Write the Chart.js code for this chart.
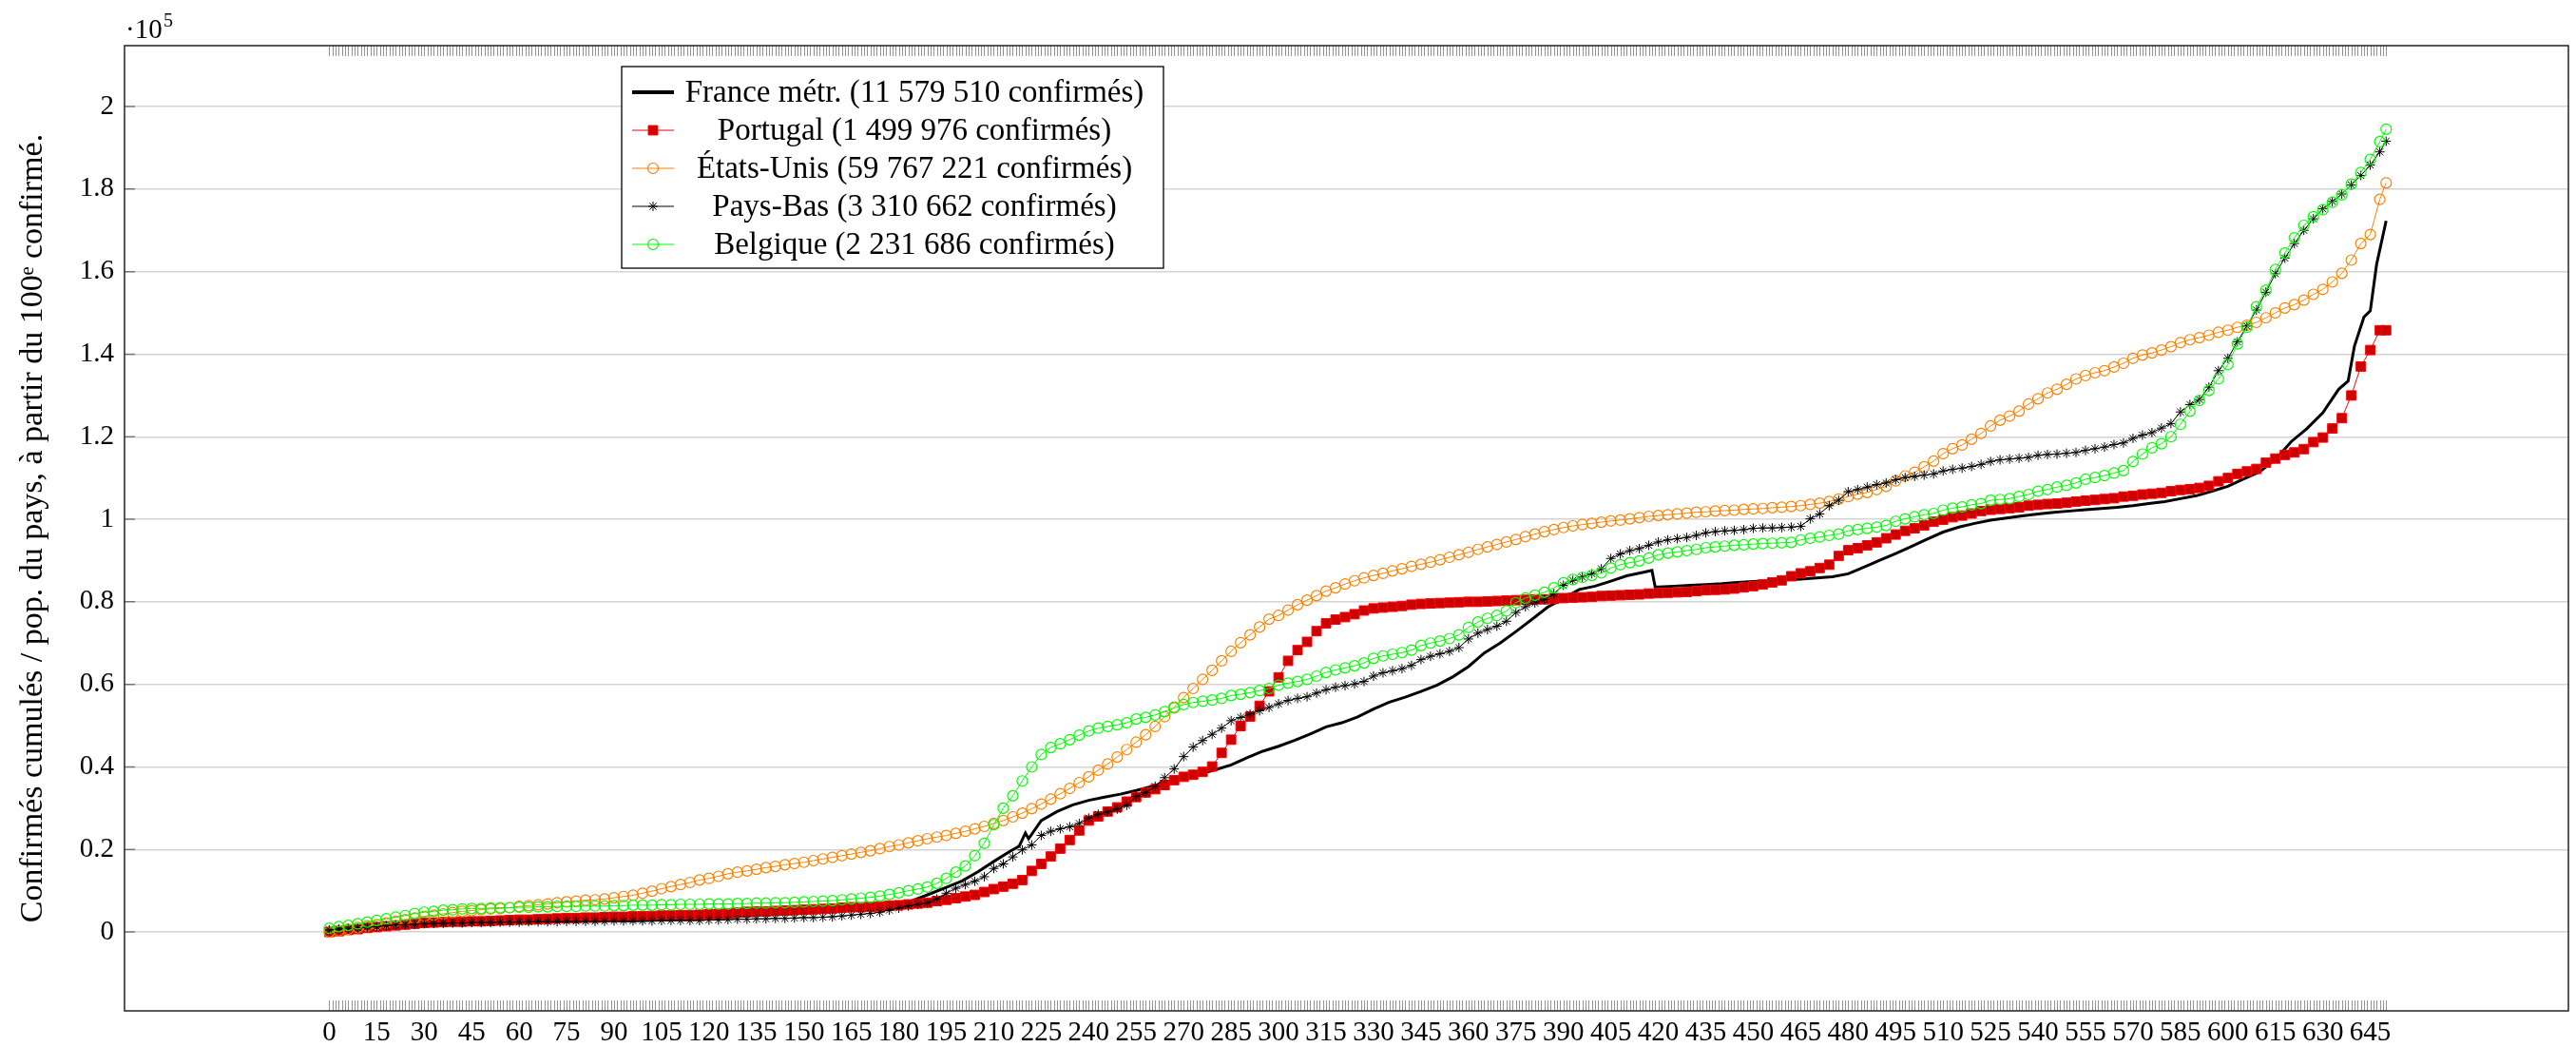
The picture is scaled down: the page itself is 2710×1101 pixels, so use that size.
<!DOCTYPE html>
<html>
<head>
<meta charset="utf-8">
<title>Confirmés cumulés</title>
<script src="https://cdn.jsdelivr.net/npm/chart.js@4.4.1/dist/chart.umd.min.js"></script>
<style>
    html, body { margin: 0; padding: 0; background: #fff; }
    canvas { display: block; }
</style>
</head>
<body>
<canvas id="Cumul" width="2710" height="1101"></canvas>
<script>
// jours depuis le 100e confirmé (un point tous les 3 jours)
const days = [
    0, 3, 6, 9, 12, 15, 18, 21, 24, 27, 30, 33, 36, 39, 42, 45, 48, 51, 54, 57,
    60, 63, 66, 69, 72, 75, 78, 81, 84, 87, 90, 93, 96, 99, 102, 105, 108, 111, 114, 117,
    120, 123, 126, 129, 132, 135, 138, 141, 144, 147, 150, 153, 156, 159, 162, 165, 168, 171, 174, 177,
    180, 183, 186, 189, 192, 195, 198, 201, 204, 207, 210, 213, 216, 219, 222, 225, 228, 231, 234, 237,
    240, 243, 246, 249, 252, 255, 258, 261, 264, 267, 270, 273, 276, 279, 282, 285, 288, 291, 294, 297,
    300, 303, 306, 309, 312, 315, 318, 321, 324, 327, 330, 333, 336, 339, 342, 345, 348, 351, 354, 357,
    360, 363, 366, 369, 372, 375, 378, 381, 384, 387, 390, 393, 396, 399, 402, 405, 408, 411, 414, 417,
    420, 423, 426, 429, 432, 435, 438, 441, 444, 447, 450, 453, 456, 459, 462, 465, 468, 471, 474, 477,
    480, 483, 486, 489, 492, 495, 498, 501, 504, 507, 510, 513, 516, 519, 522, 525, 528, 531, 534, 537,
    540, 543, 546, 549, 552, 555, 558, 561, 564, 567, 570, 573, 576, 579, 582, 585, 588, 591, 594, 597,
    600, 603, 606, 609, 612, 615, 618, 621, 624, 627, 630, 633, 636, 639, 642, 645, 648, 650
];

// France métr. : ligne sans marques, quelques jours en plus pour les sauts
const franceDays = [
    0, 5, 10, 15, 20, 25, 30, 35, 40, 45, 50, 55, 60, 65, 70, 75, 80, 85, 90, 95,
    100, 105, 110, 115, 120, 125, 130, 135, 140, 145, 150, 155, 160, 165, 170, 175, 180, 185, 190, 195,
    200, 205, 210, 215, 218, 220, 221, 225,
    230, 235, 240, 245, 250, 255, 260, 265, 270, 275, 280, 285, 290, 295,
    300, 305, 310, 315, 320, 325, 330, 335, 340, 345, 350, 355, 360, 365, 370, 375, 380, 385, 390, 395,
    400, 405, 410, 415, 418, 419, 420,
    425, 430, 435, 440, 445, 450, 455, 460, 465, 470, 475, 480, 485, 490, 495,
    500, 505, 510, 515, 520, 525, 530, 535, 540, 545, 550, 555, 560, 565, 570, 575, 580, 585, 590, 595,
    600, 605, 610, 615, 620, 625, 630, 635, 638, 640, 643, 645, 647, 650
];

// valeurs en unités de 10^5
const france = [
    0.000, 0.005, 0.008, 0.011, 0.014, 0.017, 0.019, 0.020, 0.021, 0.022,
    0.023, 0.023, 0.024, 0.024, 0.025, 0.025, 0.026, 0.026, 0.027, 0.027,
    0.028, 0.029, 0.030, 0.031, 0.033, 0.035, 0.038, 0.040, 0.042, 0.044,
    0.046, 0.048, 0.050, 0.053, 0.057, 0.061, 0.065, 0.078, 0.093, 0.108,
    0.124, 0.146, 0.171, 0.195, 0.208, 0.240, 0.226, 0.270,
    0.292, 0.308, 0.319, 0.327,
    0.334, 0.343, 0.353, 0.365, 0.375, 0.383, 0.393, 0.405, 0.422, 0.438,
    0.450, 0.464, 0.480, 0.497, 0.507, 0.521, 0.540, 0.557, 0.569, 0.583,
    0.598, 0.618, 0.643, 0.676, 0.700, 0.728, 0.757, 0.787, 0.808, 0.830,
    0.838, 0.850, 0.863, 0.871, 0.876, 0.836, 0.836,
    0.838, 0.840, 0.842, 0.844, 0.847,
    0.849, 0.851, 0.853, 0.855, 0.858, 0.861, 0.868, 0.884, 0.901, 0.917,
    0.934, 0.952, 0.969, 0.981, 0.990, 0.998, 1.003, 1.008, 1.013, 1.017,
    1.020, 1.023, 1.026, 1.029, 1.033, 1.038, 1.043, 1.050, 1.057, 1.068,
    1.080, 1.098, 1.115, 1.145, 1.188, 1.220, 1.258, 1.315,
    1.335, 1.420, 1.490, 1.505, 1.618, 1.723
];

const portugal = [
    0.000, 0.002, 0.005, 0.007, 0.010, 0.012, 0.014, 0.016, 0.018, 0.020,
    0.022, 0.023, 0.024, 0.025, 0.025, 0.026, 0.026, 0.027, 0.028, 0.029,
    0.030, 0.030, 0.031, 0.032, 0.033, 0.034, 0.034, 0.035, 0.035, 0.036,
    0.037, 0.037, 0.038, 0.038, 0.039, 0.040, 0.040, 0.041, 0.041, 0.042,
    0.043, 0.044, 0.045, 0.047, 0.049, 0.050, 0.050, 0.051, 0.052, 0.053,
    0.054, 0.055, 0.056, 0.057, 0.059, 0.060, 0.060, 0.061, 0.062, 0.064,
    0.065, 0.067, 0.069, 0.071, 0.075, 0.078, 0.082, 0.086, 0.090, 0.097,
    0.104, 0.110, 0.117, 0.126, 0.148, 0.165, 0.183, 0.202, 0.223, 0.246,
    0.270, 0.280, 0.292, 0.302, 0.316, 0.327, 0.338, 0.346, 0.356, 0.368,
    0.376, 0.381, 0.388, 0.401, 0.434, 0.466, 0.499, 0.522, 0.548, 0.583,
    0.617, 0.657, 0.683, 0.703, 0.729, 0.748, 0.757, 0.763, 0.770, 0.779,
    0.784, 0.786, 0.788, 0.790, 0.793, 0.795, 0.796, 0.797, 0.798, 0.799,
    0.800, 0.800, 0.801, 0.802, 0.803, 0.804, 0.805, 0.806, 0.806, 0.807,
    0.809, 0.810, 0.811, 0.812, 0.814, 0.815, 0.816, 0.817, 0.818, 0.820,
    0.821, 0.822, 0.823, 0.824, 0.826, 0.828, 0.829, 0.830, 0.832, 0.835,
    0.838, 0.842, 0.847, 0.852, 0.862, 0.869, 0.874, 0.882, 0.890, 0.911,
    0.925, 0.930, 0.937, 0.944, 0.954, 0.963, 0.972, 0.978, 0.985, 0.994,
    0.999, 1.005, 1.009, 1.014, 1.020, 1.023, 1.025, 1.027, 1.029, 1.033,
    1.035, 1.037, 1.038, 1.040, 1.043, 1.045, 1.047, 1.049, 1.051, 1.055,
    1.057, 1.060, 1.062, 1.064, 1.068, 1.071, 1.073, 1.076, 1.081, 1.092,
    1.100, 1.110, 1.116, 1.122, 1.137, 1.147, 1.156, 1.162, 1.170, 1.187,
    1.198, 1.220, 1.245, 1.300, 1.370, 1.410, 1.458, 1.458
];

const etatsUnis = [
    0.000, 0.003, 0.007, 0.011, 0.015, 0.018, 0.022, 0.026, 0.030, 0.034,
    0.038, 0.041, 0.044, 0.047, 0.050, 0.052, 0.054, 0.056, 0.057, 0.059,
    0.062, 0.064, 0.066, 0.068, 0.071, 0.073, 0.075, 0.077, 0.078, 0.080,
    0.083, 0.086, 0.089, 0.094, 0.099, 0.105, 0.110, 0.115, 0.120, 0.126,
    0.130, 0.135, 0.141, 0.145, 0.148, 0.152, 0.156, 0.159, 0.163, 0.166,
    0.169, 0.173, 0.177, 0.181, 0.185, 0.189, 0.193, 0.197, 0.202, 0.207,
    0.211, 0.216, 0.221, 0.226, 0.230, 0.234, 0.239, 0.244, 0.250, 0.256,
    0.263, 0.270, 0.279, 0.288, 0.299, 0.310, 0.322, 0.335, 0.348, 0.362,
    0.376, 0.392, 0.407, 0.424, 0.442, 0.460, 0.478, 0.498, 0.522, 0.545,
    0.568, 0.590, 0.612, 0.634, 0.657, 0.680, 0.701, 0.720, 0.739, 0.758,
    0.767, 0.780, 0.793, 0.804, 0.815, 0.826, 0.834, 0.843, 0.851, 0.858,
    0.864, 0.869, 0.875, 0.880, 0.886, 0.891, 0.896, 0.902, 0.908, 0.914,
    0.920, 0.927, 0.933, 0.939, 0.945, 0.951, 0.958, 0.964, 0.970, 0.975,
    0.980, 0.984, 0.987, 0.990, 0.993, 0.996, 0.998, 1.001, 1.004, 1.007,
    1.009, 1.011, 1.013, 1.015, 1.017, 1.018, 1.020, 1.021, 1.022, 1.024,
    1.025, 1.026, 1.028, 1.029, 1.031, 1.033, 1.036, 1.039, 1.043, 1.049,
    1.055, 1.061, 1.065, 1.072, 1.080, 1.093, 1.105, 1.114, 1.127, 1.141,
    1.159, 1.171, 1.180, 1.194, 1.208, 1.226, 1.240, 1.250, 1.262, 1.279,
    1.292, 1.306, 1.315, 1.327, 1.340, 1.348, 1.355, 1.360, 1.369, 1.378,
    1.390, 1.398, 1.403, 1.410, 1.418, 1.428, 1.435, 1.440, 1.446, 1.453,
    1.458, 1.465, 1.470, 1.477, 1.488, 1.500, 1.512, 1.520, 1.531, 1.545,
    1.557, 1.575, 1.596, 1.628, 1.668, 1.690, 1.775, 1.815
];

const paysBas = [
    0.005, 0.007, 0.008, 0.010, 0.012, 0.013, 0.015, 0.017, 0.018, 0.019,
    0.020, 0.021, 0.021, 0.022, 0.022, 0.023, 0.023, 0.023, 0.024, 0.024,
    0.024, 0.025, 0.025, 0.025, 0.025, 0.026, 0.026, 0.026, 0.026, 0.026,
    0.027, 0.027, 0.027, 0.027, 0.027, 0.028, 0.028, 0.028, 0.028, 0.028,
    0.029, 0.029, 0.030, 0.031, 0.031, 0.032, 0.032, 0.033, 0.033, 0.034,
    0.035, 0.035, 0.036, 0.037, 0.039, 0.041, 0.043, 0.045, 0.048, 0.053,
    0.058, 0.063, 0.067, 0.071, 0.080, 0.094, 0.106, 0.115, 0.123, 0.134,
    0.154, 0.165, 0.182, 0.199, 0.211, 0.234, 0.244, 0.250, 0.255, 0.263,
    0.276, 0.285, 0.291, 0.298, 0.307, 0.328, 0.338, 0.353, 0.374, 0.395,
    0.425, 0.448, 0.464, 0.479, 0.494, 0.512, 0.520, 0.528, 0.536, 0.544,
    0.553, 0.561, 0.566, 0.570, 0.579, 0.587, 0.593, 0.597, 0.601, 0.607,
    0.620, 0.628, 0.633, 0.638, 0.646, 0.660, 0.668, 0.674, 0.680, 0.689,
    0.710, 0.724, 0.733, 0.741, 0.753, 0.774, 0.788, 0.797, 0.806, 0.820,
    0.840, 0.852, 0.860, 0.868, 0.880, 0.905, 0.916, 0.924, 0.929, 0.937,
    0.945, 0.950, 0.953, 0.956, 0.961, 0.967, 0.970, 0.972, 0.973, 0.975,
    0.978, 0.979, 0.979, 0.980, 0.981, 0.983, 1.001, 1.013, 1.033, 1.046,
    1.067, 1.072, 1.078, 1.084, 1.088, 1.096, 1.101, 1.104, 1.107, 1.110,
    1.117, 1.121, 1.124, 1.128, 1.133, 1.140, 1.144, 1.146, 1.148, 1.150,
    1.155, 1.157, 1.158, 1.160, 1.162, 1.167, 1.171, 1.175, 1.181, 1.185,
    1.196, 1.204, 1.210, 1.221, 1.232, 1.260, 1.278, 1.290, 1.320, 1.360,
    1.390, 1.430, 1.468, 1.507, 1.550, 1.595, 1.633, 1.668, 1.700, 1.728,
    1.752, 1.770, 1.788, 1.810, 1.833, 1.858, 1.890, 1.916
];

const belgique = [
    0.009, 0.013, 0.016, 0.020, 0.024, 0.028, 0.032, 0.036, 0.040, 0.045,
    0.048, 0.050, 0.053, 0.054, 0.056, 0.057, 0.057, 0.058, 0.059, 0.059,
    0.060, 0.060, 0.061, 0.061, 0.062, 0.062, 0.062, 0.063, 0.063, 0.063,
    0.064, 0.064, 0.065, 0.065, 0.065, 0.066, 0.066, 0.067, 0.067, 0.067,
    0.068, 0.068, 0.068, 0.069, 0.069, 0.070, 0.070, 0.071, 0.071, 0.072,
    0.073, 0.074, 0.075, 0.076, 0.078, 0.080, 0.082, 0.084, 0.087, 0.091,
    0.095, 0.100, 0.104, 0.109, 0.118, 0.130, 0.145, 0.160, 0.185, 0.215,
    0.260, 0.300, 0.330, 0.366, 0.400, 0.430, 0.447, 0.456, 0.466, 0.477,
    0.487, 0.494, 0.498, 0.502, 0.507, 0.516, 0.520, 0.526, 0.534, 0.543,
    0.551, 0.556, 0.559, 0.562, 0.566, 0.573, 0.576, 0.580, 0.585, 0.590,
    0.598, 0.603, 0.607, 0.612, 0.620, 0.629, 0.635, 0.640, 0.645, 0.652,
    0.663, 0.669, 0.673, 0.677, 0.683, 0.694, 0.700, 0.705, 0.711, 0.720,
    0.738, 0.751, 0.760, 0.767, 0.778, 0.798, 0.809, 0.816, 0.823, 0.834,
    0.846, 0.854, 0.859, 0.864, 0.870, 0.882, 0.890, 0.895, 0.899, 0.906,
    0.914, 0.918, 0.921, 0.924, 0.927, 0.931, 0.933, 0.935, 0.937, 0.938,
    0.940, 0.941, 0.942, 0.943, 0.944, 0.950, 0.954, 0.957, 0.961, 0.964,
    0.972, 0.975, 0.978, 0.981, 0.985, 0.995, 1.001, 1.006, 1.011, 1.014,
    1.022, 1.027, 1.030, 1.035, 1.038, 1.046, 1.048, 1.050, 1.055, 1.060,
    1.068, 1.072, 1.078, 1.082, 1.088, 1.097, 1.101, 1.106, 1.112, 1.118,
    1.140, 1.158, 1.173, 1.183, 1.200, 1.230, 1.262, 1.288, 1.312, 1.340,
    1.375, 1.425, 1.465, 1.515, 1.555, 1.605, 1.645, 1.682, 1.712, 1.733,
    1.750, 1.768, 1.786, 1.812, 1.840, 1.872, 1.915, 1.945
];

const labels = [
    'France métr. (11 579 510 confirmés)',
    'Portugal (1 499 976 confirmés)',
    'États-Unis (59 767 221 confirmés)',
    'Pays-Bas (3 310 662 confirmés)',
    'Belgique (2 231 686 confirmés)'
];

const xTickValues = [0, 15, 30, 45, 60, 75, 90, 105, 120, 135, 150, 165, 180, 195, 210, 225, 240, 255,
    270, 285, 300, 315, 330, 345, 360, 375, 390, 405, 420, 435, 450, 465, 480, 495, 510, 525, 540, 555,
    570, 585, 600, 615, 630, 645];
const yTickValues = [0, 0.2, 0.4, 0.6, 0.8, 1, 1.2, 1.4, 1.6, 1.8, 2];

const yTitle = 'Confirmés cumulés / pop. du pays, à partir du 100ᵉ confirmé.';
const serif = "'Liberation Serif', 'DejaVu Serif', serif";

function points(xs, ys) {
    return xs.map(function (d, i) {
        return {x: d, y: ys[i]};
    });
}

let series = [
    {
        label: labels[0], data: points(franceDays, france), order: 5,
        borderColor: '#000', borderWidth: 3, pointRadius: 0
    },
    {
        label: labels[1], data: points(days, portugal), order: 4,
        borderColor: 'rgb(255,0,0)', borderWidth: 1,
        pointStyle: 'rect', pointRadius: 7, pointBorderWidth: 1,
        pointBackgroundColor: 'rgb(204,0,0)', pointBorderColor: 'rgb(255,0,0)'
    },
    {
        label: labels[2], data: points(days, etatsUnis), order: 3,
        borderColor: 'rgb(255,128,0)', borderWidth: 1,
        pointStyle: 'circle', pointRadius: 5.5, pointBorderWidth: 1.2,
        pointBackgroundColor: 'rgba(0,0,0,0)', pointBorderColor: 'rgb(255,128,0)'
    },
    {
        label: labels[3], data: points(days, paysBas), order: 2,
        borderColor: '#000', borderWidth: 1,
        pointStyle: 'star', pointRadius: 5, pointBorderWidth: 1,
        pointBackgroundColor: '#000', pointBorderColor: '#000'
    },
    {
        label: labels[4], data: points(days, belgique), order: 1,
        borderColor: 'rgb(0,255,0)', borderWidth: 1,
        pointStyle: 'circle', pointRadius: 5.5, pointBorderWidth: 1.2,
        pointBackgroundColor: 'rgba(0,0,0,0)', pointBorderColor: 'rgb(0,255,0)'
    }
];

// cadre, petites graduations, facteur 10^5 et légende dans le tracé
const decorations = {
    id: 'decorations',
    afterDraw: function (chart) {
        let ctx = chart.ctx;
        let a = chart.chartArea;
        let x = chart.scales.x;
        let y = chart.scales.y;
        ctx.save();

        ctx.strokeStyle = 'rgba(0,0,0,0.42)';
        ctx.lineWidth = 1;
        ctx.beginPath();
        let lastDay = days[days.length - 1];
        for (let d = 0; d <= lastDay; d++) {
            let px = Math.round(x.getPixelForValue(d)) + 0.5;
            ctx.moveTo(px, a.bottom);
            ctx.lineTo(px, a.bottom - 11);
            ctx.moveTo(px, a.top);
            ctx.lineTo(px, a.top + 11);
        }
        ctx.stroke();

        ctx.strokeStyle = 'rgba(0,0,0,0.45)';
        ctx.lineWidth = 1.5;
        ctx.beginPath();
        yTickValues.forEach(function (v) {
            let py = y.getPixelForValue(v);
            ctx.moveTo(a.left, py);
            ctx.lineTo(a.left + 11, py);
        });
        ctx.stroke();

        ctx.strokeStyle = '#222';
        ctx.lineWidth = 1.5;
        ctx.strokeRect(a.left, a.top, a.right - a.left, a.bottom - a.top);

        ctx.fillStyle = '#000';
        ctx.textBaseline = 'alphabetic';
        ctx.textAlign = 'left';
        ctx.font = '29px ' + serif;
        ctx.fillText('·10', a.left + 1, 40);
        ctx.font = '20px ' + serif;
        ctx.fillText('5', a.left + 41, 28);

        // légende
        let box = {left: 654, top: 70, right: 1224, bottom: 282};
        ctx.fillStyle = '#fff';
        ctx.fillRect(box.left, box.top, box.right - box.left, box.bottom - box.top);
        ctx.strokeStyle = '#000';
        ctx.lineWidth = 1.3;
        ctx.strokeRect(box.left, box.top, box.right - box.left, box.bottom - box.top);

        ctx.font = '33px ' + serif;
        ctx.textAlign = 'center';
        ctx.textBaseline = 'middle';
        chart.data.datasets.forEach(function (ds, i) {
            let ly = 97 + i * 40;
            ctx.strokeStyle = ds.borderColor;
            ctx.lineWidth = ds.borderWidth === 3 ? 4 : ds.borderWidth;
            ctx.beginPath();
            ctx.moveTo(665, ly);
            ctx.lineTo(709, ly);
            ctx.stroke();
            if (ds.pointRadius > 0) {
                ctx.fillStyle = ds.pointBackgroundColor;
                ctx.strokeStyle = ds.pointBorderColor;
                ctx.lineWidth = ds.pointBorderWidth;
                Chart.helpers.drawPoint(ctx, {
                    pointStyle: ds.pointStyle, radius: ds.pointRadius,
                    rotation: 0, borderWidth: ds.pointBorderWidth
                }, 687, ly);
            }
            ctx.fillStyle = '#000';
            ctx.fillText(ds.label, 962, ly + 1);
        });
        ctx.restore();
    }
};

const cumul_chart = new Chart(
    document.getElementById('Cumul'),
    {
        type: 'line',
        data: {datasets: series},
        options: {
            responsive: false,
            animation: false,
            events: [],
            layout: {padding: {top: 48, right: 0, bottom: 0, left: 0}},
            elements: {line: {tension: 0}},
            scales: {
                x: {
                    type: 'linear',
                    min: -64.7,
                    max: 707.6,
                    afterBuildTicks: function (scale) {
                        scale.ticks = xTickValues.map(function (v) { return {value: v}; });
                    },
                    afterFit: function (scale) { scale.height = 38; },
                    grid: {display: false, drawTicks: false},
                    border: {display: false},
                    ticks: {
                        autoSkip: false, maxRotation: 0, minRotation: 0, padding: 6,
                        color: '#000', font: {family: serif, size: 29},
                        callback: function (v) { return String(v); }
                    }
                },
                y: {
                    min: -0.191,
                    max: 2.1475,
                    afterBuildTicks: function (scale) {
                        scale.ticks = yTickValues.map(function (v) { return {value: v}; });
                    },
                    afterFit: function (scale) { scale.width = 131; },
                    grid: {color: 'rgb(212,212,212)', lineWidth: 1.5, drawTicks: false},
                    border: {display: false},
                    ticks: {
                        padding: 11, color: '#000', font: {family: serif, size: 29},
                        callback: function (v) { return String(Math.round(v * 10) / 10); }
                    },
                    title: {
                        display: true, text: yTitle, color: '#000',
                        font: {family: serif, size: 34}, padding: {top: 15, bottom: 0}
                    }
                }
            },
            plugins: {
                legend: {display: false},
                tooltip: {enabled: false}
            }
        },
        plugins: [decorations]
    }
);
</script>
</body>
</html>
